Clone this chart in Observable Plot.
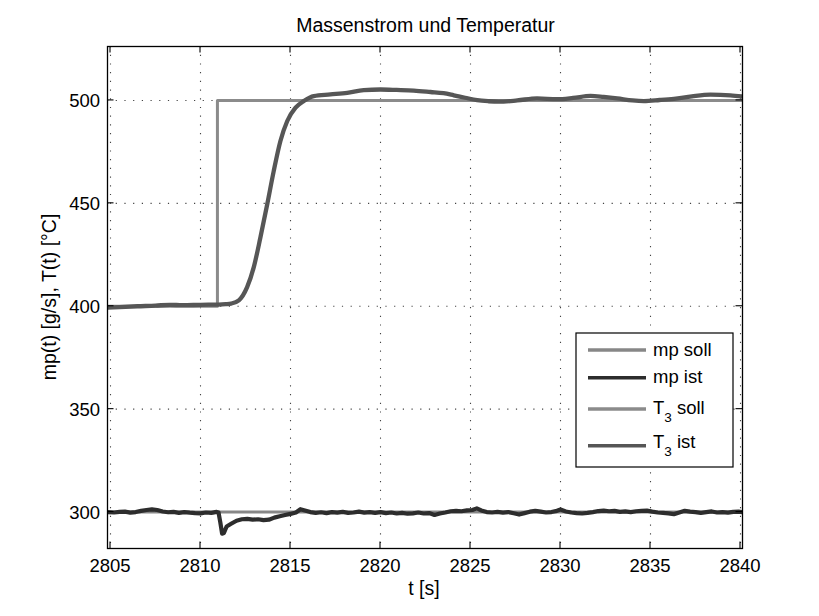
<!DOCTYPE html>
<html><head><meta charset="utf-8">
<script src="https://cdn.jsdelivr.net/npm/d3@7"></script>
<script src="https://cdn.jsdelivr.net/npm/@observablehq/plot@0.6"></script>
<style>
body{margin:0;background:#fff}
#chart{width:819px;height:616px}
</style>
</head><body><div id="chart"></div>
<script>
// ---- data ----
const title = "Massenstrom und Temperatur";
const xLabel = "t [s]";
const yLabel = "mp(t) [g/s], T(t) [°C]";
const xTicks = [2805, 2810, 2815, 2820, 2825, 2830, 2835, 2840];
const yTicks = [300, 350, 400, 450, 500];
const xDomain = [2804.833, 2840.111];
const yDomain = [282.3, 526.2];

const mpSollTime = [2804.833, 2840.111];
const mpSollValue = [300, 300];

const mpIstTime = [2804.85,2805.2,2805.5,2805.8,2806.1,2806.4,2806.7,2807.0,2807.3,2807.6,2807.9,2808.2,2808.5,2808.8,2809.1,2809.4,2809.7,2810.0,2810.3,2810.6,2810.9,2811.0,2811.1,2811.2,2811.3,2811.45,2811.7,2812.0,2812.3,2812.6,2812.9,2813.2,2813.5,2813.8,2814.1,2814.4,2814.7,2815.0,2815.3,2815.55,2815.8,2816.1,2816.4,2816.7,2817.0,2817.3,2817.6,2817.9,2818.2,2818.5,2818.8,2819.1,2819.4,2819.7,2820.0,2820.3,2820.6,2820.9,2821.2,2821.5,2821.8,2822.1,2822.4,2822.7,2823.0,2823.3,2823.6,2823.9,2824.2,2824.5,2824.8,2825.1,2825.35,2825.6,2825.9,2826.2,2826.5,2826.8,2827.1,2827.4,2827.7,2828.0,2828.3,2828.6,2828.9,2829.2,2829.5,2829.8,2830.0,2830.3,2830.6,2830.9,2831.2,2831.5,2831.8,2832.1,2832.4,2832.7,2833.0,2833.3,2833.6,2833.9,2834.2,2834.5,2834.8,2835.1,2835.4,2835.7,2836.0,2836.3,2836.6,2836.9,2837.2,2837.5,2837.8,2838.1,2838.4,2838.7,2839.0,2839.3,2839.6,2839.9,2840.1];
const mpIstValue = [300.0,299.8,300.1,300.2,299.7,300.0,300.6,301.0,301.3,301.0,300.3,299.9,300.1,299.6,300.0,299.7,299.5,299.4,299.8,299.6,300.1,299.8,295.0,289.5,289.8,293.0,294.3,295.8,296.5,296.7,296.3,296.5,296.1,296.3,297.3,298.0,298.6,299.1,299.8,301.4,300.8,300.0,299.6,299.9,299.5,300.0,299.7,300.1,299.6,299.8,300.2,299.7,300.0,299.6,300.0,299.5,299.8,299.3,299.6,299.2,299.4,299.8,299.3,299.5,298.6,299.3,299.8,300.4,300.6,300.4,300.8,301.0,301.8,300.8,300.0,299.8,300.1,299.7,300.0,299.4,298.8,299.5,300.2,300.6,300.2,299.8,300.0,300.6,301.2,300.3,299.8,299.5,299.3,299.6,300.0,300.5,300.7,300.4,300.6,300.1,300.3,300.0,300.4,300.6,300.7,300.2,299.8,299.6,299.4,299.0,299.8,300.6,300.2,300.0,299.6,300.0,300.3,299.8,300.0,299.7,300.1,300.2,300.0];

const t3SollTime = [2804.833, 2810.94, 2840.111];
const t3SollValue = [400, 500, 500];

const t3IstTime = [2804.85,2805.5,2806.5,2807.5,2808.3,2809.0,2810.0,2811.0,2811.4,2811.7,2812.13,2812.59,2812.96,2813.33,2813.71,2814.07,2814.44,2814.82,2815.28,2815.74,2816.29,2817.22,2818.15,2819.07,2820.0,2820.9,2821.85,2822.78,2823.5,2824.07,2824.7,2825.37,2826.0,2826.57,2827.6,2828.7,2829.8,2830.7,2831.67,2832.4,2833.15,2834.0,2834.63,2835.5,2836.3,2837.3,2838.33,2839.44,2840.1];
const t3IstValue = [399.3,399.6,400.0,400.3,400.7,400.5,400.7,400.8,401.0,401.3,402.9,409.3,419.0,433.5,449.7,465.8,480.3,490.0,496.5,499.7,502.1,502.9,503.7,505.0,505.3,505.1,504.8,504.1,503.5,502.5,501.3,500.1,499.6,499.4,500.0,501.0,500.6,501.2,502.2,501.7,501.0,500.0,499.7,500.2,500.8,502.0,502.8,502.5,501.9];

const legendNames = ["mp soll", "mp ist", "T3 soll", "T3 ist"];

// ---- tables ----
const rows = (ts, vs) => ts.map((t, i) => ({t, v: vs[i]}));
const mpSoll = rows(mpSollTime, mpSollValue);
const mpIst = rows(mpIstTime, mpIstValue);
const t3Soll = rows(t3SollTime, t3SollValue);
const t3Ist = rows(t3IstTime, t3IstValue);

const colors = ["#878787", "#2d2d2d", "#8b8b8b", "#565656"];
const widths = [3, 4.2, 3, 4.3];

const plot = Plot.plot({
  width: 819, height: 616,
  marginLeft: 107, marginRight: 77, marginTop: 46, marginBottom: 68,
  style: {fontFamily: "'Liberation Sans', Arial, sans-serif", background: "#fff", overflow: "visible"},
  x: {domain: xDomain, axis: null},
  y: {domain: yDomain, axis: null},
  marks: [
    Plot.gridX(xTicks, {stroke: "#444", strokeOpacity: 1, strokeWidth: 1.1, strokeDasharray: "1.2,7.5"}),
    Plot.gridY(yTicks, {stroke: "#444", strokeOpacity: 1, strokeWidth: 1.1, strokeDasharray: "1.2,7.5"}),
    Plot.line(mpSoll, {x: "t", y: "v", stroke: colors[0], strokeWidth: widths[0], clip: true}),
    Plot.line(mpIst, {x: "t", y: "v", stroke: colors[1], strokeWidth: widths[1], clip: true, curve: "linear"}),
    Plot.line(t3Soll, {x: "t", y: "v", stroke: colors[2], strokeWidth: widths[2], curve: "step-after", clip: true}),
    Plot.line(t3Ist, {x: "t", y: "v", stroke: colors[3], strokeWidth: widths[3], curve: "monotone-x", clip: true}),
    Plot.frame({stroke: "#000", strokeWidth: 1.3})
  ]
});
document.getElementById("chart").appendChild(plot);

const sx = plot.scale("x"), sy = plot.scale("y");
const svg = d3.select(plot);
const L = 107, R = 742, T = 46, B = 548, tick = 6.5;
const font = "'Liberation Sans', Arial, sans-serif";

const g = svg.append("g").attr("stroke", "#000").attr("stroke-width", 1.1);
xTicks.forEach(v => {
  const x = sx.apply(v);
  g.append("line").attr("x1", x).attr("x2", x).attr("y1", B).attr("y2", B - tick);
  g.append("line").attr("x1", x).attr("x2", x).attr("y1", T).attr("y2", T + tick);
});
yTicks.forEach(v => {
  const y = sy.apply(v);
  g.append("line").attr("x1", L).attr("x2", L + tick).attr("y1", y).attr("y2", y);
  g.append("line").attr("x1", R).attr("x2", R - tick).attr("y1", y).attr("y2", y);
});

const txt = svg.append("g").attr("font-family", font).attr("fill", "#000");
xTicks.forEach(v => {
  txt.append("text").attr("x", sx.apply(v)).attr("y", 572).attr("text-anchor", "middle")
    .attr("font-size", 18.5).text(v);
});
yTicks.forEach(v => {
  txt.append("text").attr("x", 100).attr("y", sy.apply(v) + 7.3).attr("text-anchor", "end")
    .attr("font-size", 18.5).text(v);
});
txt.append("text").attr("x", 425.5).attr("y", 31.5).attr("text-anchor", "middle")
  .attr("font-size", 19.5).text(title);
txt.append("text").attr("x", 424).attr("y", 594.5).attr("text-anchor", "middle")
  .attr("font-size", 19.5).text(xLabel);
txt.append("text").attr("transform", "translate(56,297) rotate(-90)").attr("text-anchor", "middle")
  .attr("font-size", 19.5).text(yLabel);

// legend
const lg = svg.append("g").attr("font-family", font).attr("text-anchor", "start");
lg.append("rect").attr("x", 576).attr("y", 333).attr("width", 157).attr("height", 134)
  .attr("fill", "#fff").attr("stroke", "#000").attr("stroke-width", 1.2);
const lineY = [350, 377.7, 409, 445.7];
const baseY = [356, 383.3, 414, 448.3];
legendNames.forEach((name, i) => {
  lg.append("line").attr("x1", 588).attr("x2", 646).attr("y1", lineY[i]).attr("y2", lineY[i])
    .attr("stroke", colors[i]).attr("stroke-width", 3.6);
  const t = lg.append("text").attr("x", 653).attr("y", baseY[i]).attr("font-size", 18.5)
    .attr("fill", "#000").attr("text-anchor", "start");
  if (name.startsWith("T3")) {
    t.append("tspan").text("T");
    t.append("tspan").attr("dy", 8).attr("font-size", 13.5).text("3");
    t.append("tspan").attr("dy", -8).text(" " + name.slice(3));
  } else {
    t.text(name);
  }
});
</script>
</body></html>
